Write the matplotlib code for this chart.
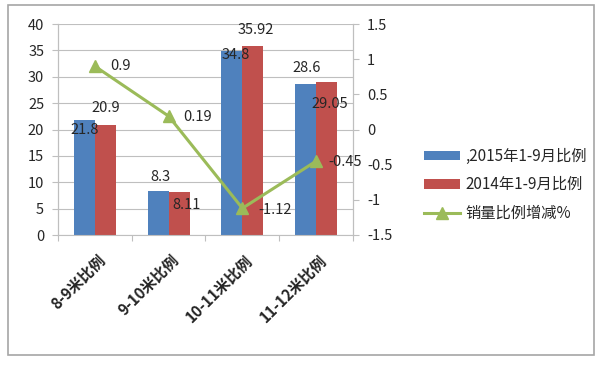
import numpy as np
import matplotlib
matplotlib.use('Agg')
import matplotlib.pyplot as plt
from matplotlib.patches import Rectangle

plt.rcParams['font.family'] = ['Noto Sans CJK SC', 'DejaVu Sans']

# --- Data ---
categories = ['8-9米比例', '9-10米比例', '10-11米比例', '11-12米比例']
share_2015 = [21.8, 8.3, 34.8, 28.6]
share_2014 = [20.9, 8.11, 35.92, 29.05]
change_pct = [0.9, 0.19, -1.12, -0.45]
series_names = [',2015年1-9月比例', '2014年1-9月比例', '销量比例增减%']

# label offsets in pixels (placement as in the original)
off_2015 = [(0, -10), (2, 14), (4, -4), (1, 16)]
off_2014 = [(0, 17), (7, -13), (3, 16), (3, -22)]
off_line = [(26, 0), (29, -1), (33, -2), (29, -1)]

BLUE, RED, GREEN = '#4F81BD', '#C0504D', '#9BBB59'
GRID = '#BFBFBF'
TXT = '#262626'
FS = 10.5

fig = plt.figure(figsize=(6, 3.66), dpi=100)
ax = fig.add_axes([58 / 600, 1 - 235 / 366, 295 / 600, 211 / 366])
ax2 = ax.twinx()

x = np.arange(len(categories))
w = 0.285
b1 = ax.bar(x - w / 2, share_2015, w, color=BLUE, label=series_names[0], zorder=2)
b2 = ax.bar(x + w / 2, share_2014, w, color=RED, label=series_names[1], zorder=2)
ln, = ax2.plot(x, change_pct, color=GREEN, lw=2.2, marker='^', ms=8.5,
               label=series_names[2], zorder=3)

ax.set_xlim(-0.5, len(categories) - 0.5)
ax.set_ylim(0, 40)
ax.set_yticks(np.arange(0, 41, 5))
ax2.set_ylim(-1.5, 1.5)
ax2.set_yticks(np.arange(-1.5, 1.51, 0.5))
ax2.set_yticklabels([f'{v:g}' for v in np.arange(-1.5, 1.51, 0.5)])

ax.yaxis.grid(True, color=GRID, lw=0.8, zorder=0)
ax.set_axisbelow(True)
for a in (ax, ax2):
    a.spines['top'].set_visible(False)
    a.spines['left'].set_color(GRID)
    a.spines['right'].set_color(GRID)
    a.spines['bottom'].set_color(GRID)
ax2.spines['bottom'].set_visible(False)
ax.tick_params(axis='y', length=4, color=GRID, labelsize=FS, labelcolor=TXT, pad=6)
ax2.tick_params(axis='y', length=4, color=GRID, labelsize=FS, labelcolor=TXT, pad=6)

# category boundary ticks, labels rotated
ax.set_xticks(np.arange(-0.5, len(categories), 1.0))
ax.set_xticklabels([])
ax.tick_params(axis='x', length=4, color=GRID)
for i, c in enumerate(categories):
    ax.annotate(c, xy=(i, 0), xycoords='data', xytext=(2, -17),
                textcoords='offset pixels', rotation=45, ha='right', va='top',
                rotation_mode='anchor', fontsize=11, fontweight='bold', color=TXT)

for i in range(len(categories)):
    ax.annotate(f'{share_2015[i]:g}', xy=(x[i] - w / 2, share_2015[i]),
                xytext=off_2015[i], textcoords='offset pixels',
                ha='center', va='center', fontsize=FS, color=TXT, zorder=5)
    ax.annotate(f'{share_2014[i]:g}', xy=(x[i] + w / 2, share_2014[i]),
                xytext=off_2014[i], textcoords='offset pixels',
                ha='center', va='center', fontsize=FS, color=TXT, zorder=5)
    ax2.annotate(f'{change_pct[i]:g}', xy=(x[i], change_pct[i]),
                 xytext=off_line[i], textcoords='offset pixels',
                 ha='center', va='center', fontsize=FS, color=TXT, zorder=5)

fig.legend(handles=[b1, b2, ln], loc='upper left',
           bbox_to_anchor=(410 / 600, 1 - 134 / 366), frameon=False,
           fontsize=11, handlelength=2.4, handleheight=0.6,
           labelspacing=0.75, handletextpad=0.3, labelcolor=TXT)

fig.patches.append(Rectangle((8 / 600, 1 - 355 / 366), 586 / 600, 350 / 366,
                             transform=fig.transFigure, fill=False,
                             edgecolor='#A6A6A6', lw=1.2))

fig.savefig('out.png', dpi=100)
